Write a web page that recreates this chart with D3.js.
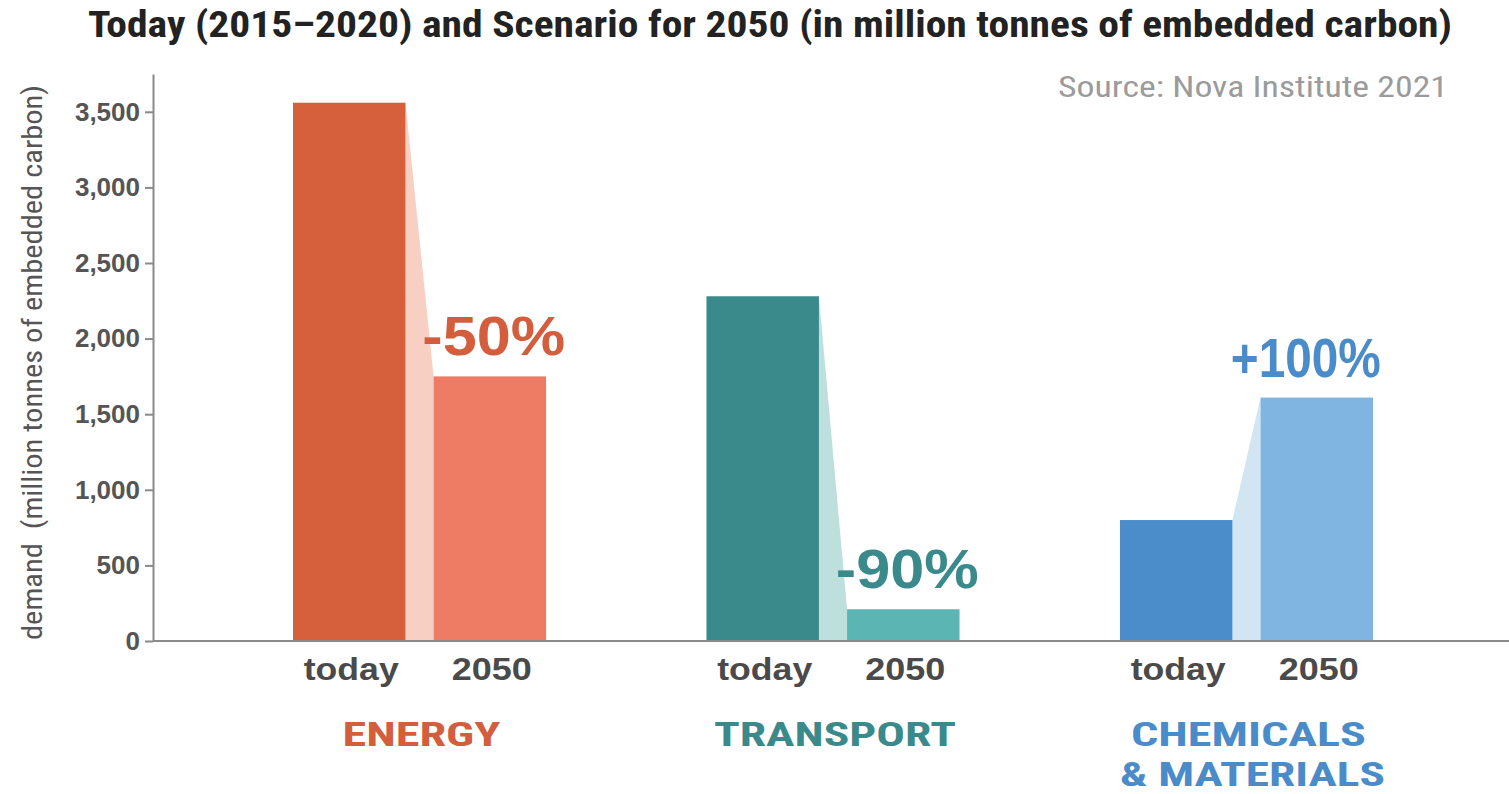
<!DOCTYPE html>
<html>
<head>
<meta charset="utf-8">
<script src="https://cdn.jsdelivr.net/npm/d3@7"></script>
<style>
  html, body { margin: 0; padding: 0; background: #fff; }
  svg { display: block; }
</style>
</head>
<body>
<svg id="chart" width="1509" height="794"></svg>
<script>
// Demand for embedded carbon, today vs. 2050 scenario (million tonnes)
const categories = ["ENERGY", "TRANSPORT", "CHEMICALS & MATERIALS"];
const categoryLines = [["ENERGY"], ["TRANSPORT"], ["CHEMICALS", "& MATERIALS"]];
const periods = ["today", "2050"];
const todayValues = [3560, 2280, 800];
const scenarioValues = [1750, 210, 1610];
const changeLabels = ["-50%", "-90%", "+100%"];
const yTicks = [0, 500, 1000, 1500, 2000, 2500, 3000, 3500];

const palette = {
  "ENERGY": { today: "#d65f3c", future: "#ee7c64", link: "#f8cfc3", text: "#d45d3d", dx: 4 },
  "TRANSPORT": { today: "#3a8a8c", future: "#5bb5b2", link: "#bde0dd", text: "#3a8a8c", dx: 4 },
  "CHEMICALS & MATERIALS": { today: "#4b8dcb", future: "#80b5e1", link: "#d2e5f3", text: "#4a8bc9", dx: -11 }
};

const rows = categories.map((c, i) => ({
  cat: c, lines: categoryLines[i], today: todayValues[i], future: scenarioValues[i], label: changeLabels[i]
}));

const svg = d3.select("#chart");
const condensed = "'Liberation Sans Narrow', 'Roboto Condensed', 'DejaVu Sans Condensed', 'Liberation Sans', sans-serif";
const sans = "'Liberation Sans', Arial, sans-serif";

const y = d3.scaleLinear().domain([0, 3750]).range([641, 74]);
const x = d3.scaleBand().domain(categories).range([293, 1373]).paddingInner(0.388).paddingOuter(0);
const xi = d3.scaleBand().domain(periods).range([0, x.bandwidth()]).paddingInner(0.2).paddingOuter(0);

// Title
svg.append("text")
  .attr("x", 88).attr("y", 37)
  .attr("textLength", 1364).attr("lengthAdjust", "spacingAndGlyphs")
  .style("font-family", condensed).style("font-size", "36px").style("font-weight", "bold")
  .style("fill", "#222")
  .text("Today (2015–2020) and Scenario for 2050 (in million tonnes of embedded carbon)");

// Source note
svg.append("text")
  .attr("x", 1058).attr("y", 97)
  .attr("textLength", 390).attr("lengthAdjust", "spacingAndGlyphs")
  .style("font-family", condensed).style("font-size", "30px")
  .style("fill", "#9b9b9b")
  .text("Source: Nova Institute 2021");

// Connector wedges between the two bars of each group
const g = svg.append("g");
g.selectAll("path.link").data(rows).join("path")
  .attr("class", "link")
  .attr("fill", d => palette[d.cat].link)
  .attr("d", d => {
    const x0 = x(d.cat) + xi("today") + xi.bandwidth();
    const x1 = x(d.cat) + xi("2050");
    return `M${x0},${y(d.today)}L${x1},${y(d.future)}L${x1},${y(0)}L${x0},${y(0)}Z`;
  });

// Bars
g.selectAll("rect.today").data(rows).join("rect")
  .attr("class", "today")
  .attr("x", d => x(d.cat) + xi("today"))
  .attr("width", xi.bandwidth())
  .attr("y", d => y(d.today))
  .attr("height", d => y(0) - y(d.today))
  .attr("fill", d => palette[d.cat].today);

g.selectAll("rect.future").data(rows).join("rect")
  .attr("class", "future")
  .attr("x", d => x(d.cat) + xi("2050"))
  .attr("width", xi.bandwidth())
  .attr("y", d => y(d.future))
  .attr("height", d => y(0) - y(d.future))
  .attr("fill", d => palette[d.cat].future);

// Change labels above the 2050 bars
g.selectAll("text.change").data(rows).join("text")
  .attr("class", "change")
  .attr("x", d => x(d.cat) + xi("2050") + xi.bandwidth() / 2 + palette[d.cat].dx)
  .attr("y", d => y(d.future) - 21)
  .attr("text-anchor", "middle")
  .attr("textLength", d => d.label.length === 5 ? 150 : 143)
  .attr("lengthAdjust", "spacingAndGlyphs")
  .style("font-family", sans).style("font-size", "55px").style("font-weight", "bold")
  .style("fill", d => palette[d.cat].text)
  .text(d => d.label);

// Y axis
const yAxis = d3.axisLeft(y).tickValues(yTicks).tickFormat(d3.format(",")).tickSizeInner(8).tickSizeOuter(0).tickPadding(5);
const ya = svg.append("g").attr("transform", "translate(153,0)").call(yAxis);
ya.select(".domain").attr("stroke", "#8a8a8a").attr("stroke-width", 2);
ya.selectAll(".tick line").attr("stroke", "#8a8a8a").attr("stroke-width", 2);
ya.selectAll(".tick text")
  .style("font-family", sans).style("font-size", "26px").style("font-weight", "bold")
  .style("fill", "#555");

// Baseline
svg.append("line")
  .attr("x1", 153).attr("x2", 1509).attr("y1", y(0)).attr("y2", y(0))
  .attr("stroke", "#8a8a8a").attr("stroke-width", 2);

// Y axis title
svg.append("text")
  .attr("transform", `translate(42,${(85 + 640) / 2}) rotate(-90)`)
  .attr("text-anchor", "middle")
  .attr("textLength", 555).attr("lengthAdjust", "spacingAndGlyphs")
  .style("font-family", condensed).style("font-size", "27px")
  .style("white-space", "pre")
  .style("fill", "#555")
  .text("demand  (million tonnes of embedded carbon)");

// Period labels under each bar
const periodLabels = svg.append("g");
rows.forEach(d => {
  periods.forEach(p => {
    periodLabels.append("text")
      .attr("x", x(d.cat) + xi(p) + xi.bandwidth() / 2 + 2)
      .attr("y", 680)
      .attr("text-anchor", "middle")
      .attr("textLength", p === "today" ? 95 : 80)
      .attr("lengthAdjust", "spacingAndGlyphs")
      .style("font-family", sans).style("font-size", "31px").style("font-weight", "bold")
      .style("fill", "#4a4a4a")
      .text(p);
  });
});

// Category names (multi-line names use tspans)
const catWidths = { "ENERGY": 158, "TRANSPORT": 242, "CHEMICALS": 235, "& MATERIALS": 265 };
rows.forEach(d => {
  const cx = x(d.cat) + x.bandwidth() / 2 + 2;
  const t = svg.append("text")
    .attr("text-anchor", "middle")
    .style("font-family", condensed).style("font-size", "34px").style("font-weight", "bold")
    .style("fill", palette[d.cat].text);
  d.lines.forEach((line, k) => {
    t.append("tspan")
      .attr("x", cx + (k === 1 ? 4 : 0))
      .attr("y", 746 + k * 40)
      .attr("textLength", catWidths[line])
      .attr("lengthAdjust", "spacingAndGlyphs")
      .text(line);
  });
});
</script>
</body>
</html>
